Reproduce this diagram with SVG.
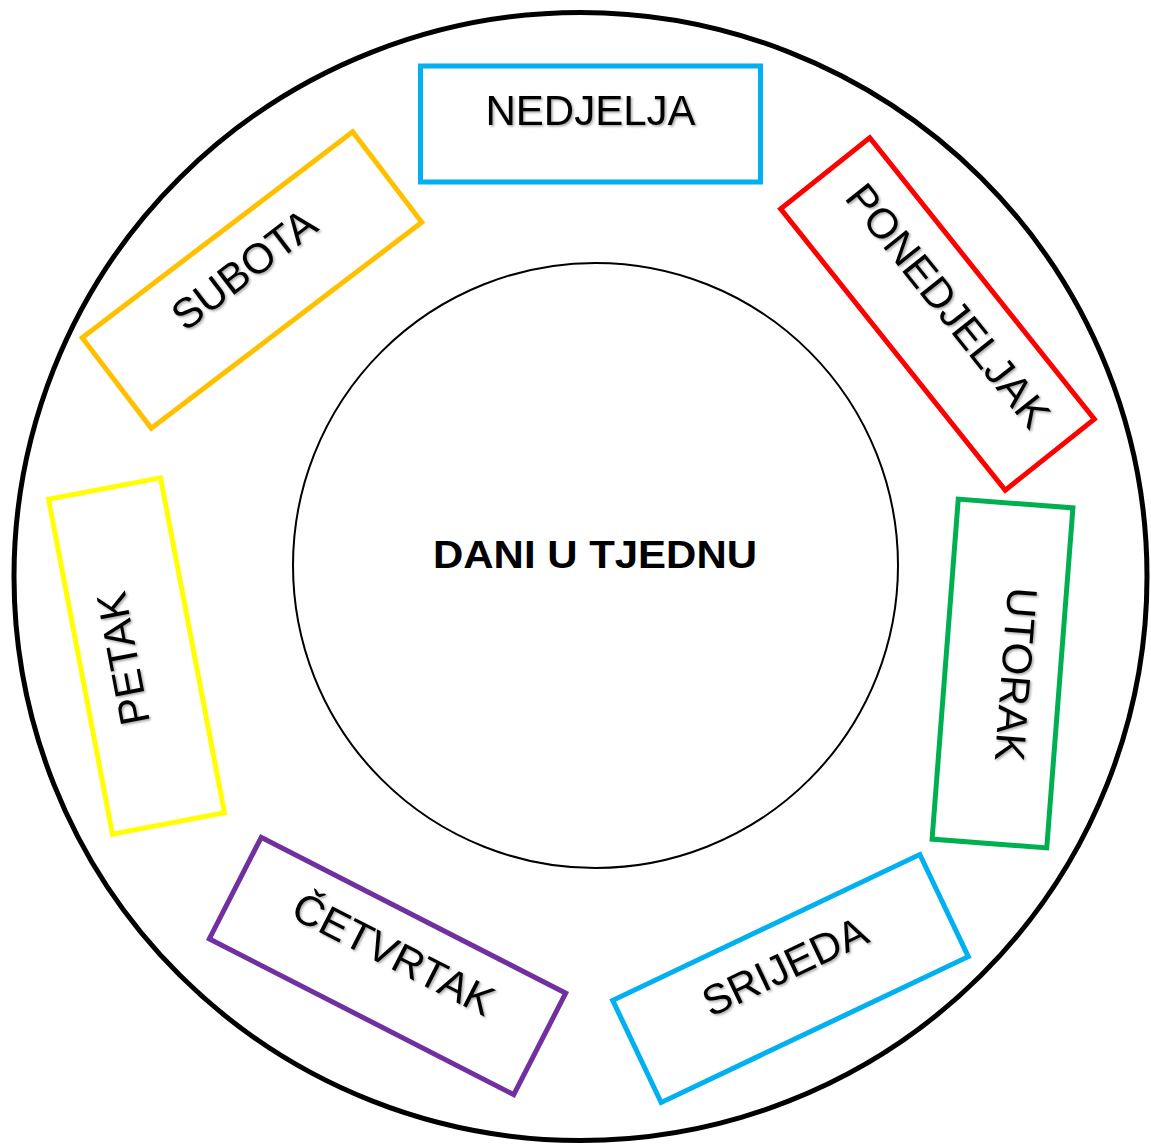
<svg xmlns="http://www.w3.org/2000/svg" width="1151" height="1145" viewBox="0 0 1151 1145">
  <defs>
    <filter id="sh" x="-20%" y="-20%" width="140%" height="140%">
      <feDropShadow dx="1.5" dy="1.5" stdDeviation="1" flood-color="#000" flood-opacity="0.35"/>
    </filter>
  </defs>
  <style>
    .box { fill: #fff; stroke-width: 5; }
    .lbl { font-family: "Liberation Sans", Arial, sans-serif; font-size: 42px; fill: #000; text-anchor: middle; }
    .title { font-family: "Liberation Sans", Arial, sans-serif; font-size: 38px; font-weight: bold; fill: #000; text-anchor: middle; }
  </style>
  <rect width="1151" height="1145" fill="#fff"/>
  <g id="ring">
    <ellipse cx="580.5" cy="576.5" rx="566.5" ry="564" fill="none" stroke="#000" stroke-width="5"/>
  </g>
  <g id="connectors"></g>
  <g id="center">
    <circle cx="595.5" cy="565.5" r="302.5" fill="#fff" stroke="#000" stroke-width="2"/>
    <text class="title" x="595" y="568" textLength="324" lengthAdjust="spacingAndGlyphs">DANI U TJEDNU</text>
  </g>
  <g id="nedjelja">
    <rect class="box" x="-170" y="-58" width="340" height="116" transform="translate(590.5,124)" stroke="#00B0F0"/>
    <g filter="url(#sh)"><text class="lbl" transform="translate(590.5,124)" x="0" y="1">NEDJELJA</text></g>
  </g>
  <g id="ponedjeljak">
    <rect class="box" x="-180" y="-57" width="360" height="114" transform="translate(937.5,314) rotate(51.4)" stroke="#FF0000"/>
    <g filter="url(#sh)"><text class="lbl" transform="translate(937.5,314) rotate(51.4)" x="0" y="1">PONEDJELJAK</text></g>
  </g>
  <g id="utorak">
    <rect class="box" x="-170.5" y="-57.5" width="341" height="115" transform="translate(1002.5,673.5) rotate(94.4)" stroke="#00B050"/>
    <g filter="url(#sh)"><text class="lbl" transform="translate(1002.5,673.5) rotate(94.4)" x="0" y="1">UTORAK</text></g>
  </g>
  <g id="srijeda">
    <rect class="box" x="-170" y="-56.5" width="340" height="113" transform="translate(790.5,978.5) rotate(-25.4)" stroke="#00B0F0"/>
    <g filter="url(#sh)"><text class="lbl" transform="translate(790.5,978.5) rotate(-25.4)" x="0" y="1">SRIJEDA</text></g>
  </g>
  <g id="cetvrtak">
    <rect class="box" x="-171" y="-57" width="342" height="114" transform="translate(387.5,966) rotate(27.1)" stroke="#7030A0"/>
    <g filter="url(#sh)"><text class="lbl" transform="translate(387.5,966) rotate(27.1)" x="0" y="1">ČETVRTAK</text></g>
  </g>
  <g id="petak">
    <rect class="box" x="-170.5" y="-57" width="341" height="114" transform="translate(136.5,656) rotate(-100.8)" stroke="#FFFF00"/>
    <g filter="url(#sh)"><text class="lbl" transform="translate(136.5,656) rotate(-100.8)" x="0" y="1">PETAK</text></g>
  </g>
  <g id="subota">
    <rect class="box" x="-170" y="-57" width="340" height="114" transform="translate(252,280) rotate(-37.3)" stroke="#FFC000"/>
    <g filter="url(#sh)"><text class="lbl" transform="translate(252,280) rotate(-37.3)" x="0" y="1">SUBOTA</text></g>
  </g>
</svg>
